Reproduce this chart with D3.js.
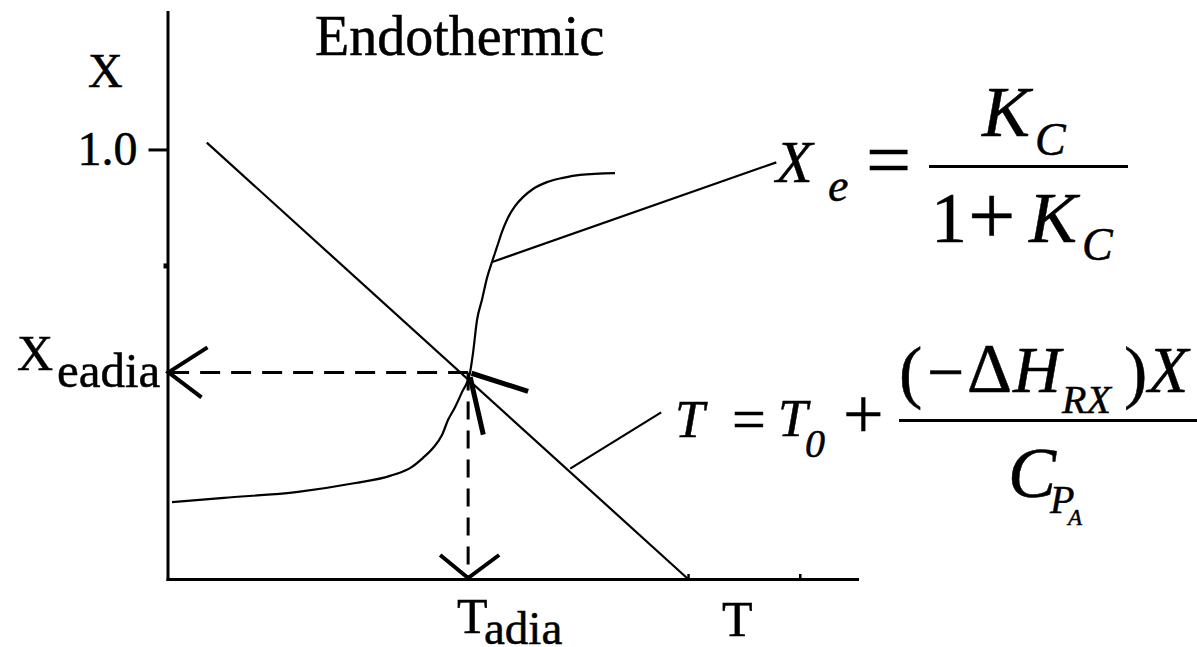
<!DOCTYPE html>
<html>
<head>
<meta charset="utf-8">
<script src="https://cdn.jsdelivr.net/npm/d3@7/dist/d3.min.js"></script>
<style>
  html, body { margin: 0; padding: 0; background: #fff; }
  svg { display: block; }
  text { font-family: "Liberation Serif", "Times New Roman", serif; fill: #000; stroke: #000; stroke-width: 0.5px; }
  .it { font-style: italic; }
</style>
</head>
<body>
<svg id="chart" width="1197" height="647"></svg>
<script>
// Conversion X versus temperature T for an endothermic reaction (arbitrary T units).
const tDomain = [0, 100];
const xDomain = [0, 1.32];

// Equilibrium conversion curve X_e(T)
const eqT = [0.65, 8.19, 18.93, 27.05, 32.27, 35.46, 37.06, 38.51, 39.81, 40.68, 41.70, 42.71, 43.87, 44.31,
             44.89, 45.61, 46.34, 47.06, 47.79, 48.51, 49.38, 50.40, 51.56, 53.01, 55.04, 57.36, 59.83, 64.90];
const eqX = [0.179, 0.189, 0.203, 0.223, 0.240, 0.261, 0.282, 0.305, 0.335, 0.370, 0.400, 0.435, 0.480, 0.526,
             0.603, 0.650, 0.701, 0.738, 0.773, 0.808, 0.841, 0.868, 0.889, 0.908, 0.924, 0.934, 0.941, 0.945];

// Adiabatic energy balance line T = T0 + (-ΔH_RX) X / C_PA
const ebT = [5.7, 75.5];
const ebX = [1.016, 0.0];

// Adiabatic equilibrium point
const adiaT = 43.6;
const adiaX = 0.481;

// Short heavy strokes drawn at the adiabatic point
const strokeA = { t: [44.1, 52.3], x: [0.479, 0.437] };
const strokeB = { t: [43.9, 45.8], x: [0.470, 0.336] };

// Leader lines from the curves to their equations
const leaderEq = { t: [47.1, 88.3], x: [0.738, 0.970] };
const leaderEb = { t: [58.4, 71.6], x: [0.257, 0.388] };

// Axis ticks
const yMajorTicks = [1.0];
const yMajorLabels = ["1.0"];
const yMinorTicks = [0.73];
const tTicks = [75.5, 91.7];

const svg = d3.select("#chart");
const xs = d3.scaleLinear().domain(tDomain).range([167.5, 857]);
const ys = d3.scaleLinear().domain(xDomain).range([579, 12]);

// Axes
const gx = svg.append("g").attr("transform", `translate(0,${ys(0)})`)
  .call(d3.axisBottom(xs).tickValues(tTicks).tickSizeInner(-5).tickSizeOuter(0).tickFormat(""));
gx.select(".domain").attr("stroke", "#000").attr("stroke-width", 3).attr("stroke-linecap", "square");
gx.selectAll(".tick line").attr("stroke", "#000").attr("stroke-width", 2.5);

const gy = svg.append("g").attr("transform", `translate(${xs(0)},0)`)
  .call(d3.axisLeft(ys).tickValues(yMajorTicks).tickSizeInner(19).tickSizeOuter(0)
    .tickPadding(11).tickFormat((d, i) => yMajorLabels[i]));
gy.select(".domain").attr("stroke", "#000").attr("stroke-width", 3).attr("stroke-linecap", "square");
gy.selectAll(".tick line").attr("stroke", "#000").attr("stroke-width", 3);
gy.selectAll(".tick text").attr("fill", "#000")
  .style("font-family", "'Liberation Serif', 'Times New Roman', serif").style("font-size", "48px");

const gyMinor = svg.append("g").attr("transform", `translate(${xs(0)},0)`)
  .call(d3.axisLeft(ys).tickValues(yMinorTicks).tickSizeInner(4).tickSizeOuter(0).tickFormat(""));
gyMinor.select(".domain").remove();
gyMinor.selectAll(".tick line").attr("stroke", "#000").attr("stroke-width", 5);

// Curves
const eqPts = eqT.map((t, i) => [t, eqX[i]]);
const smooth = d3.line().x(d => xs(d[0])).y(d => ys(d[1])).curve(d3.curveMonotoneX);
svg.append("path").datum(eqPts)
  .attr("d", smooth)
  .attr("fill", "none").attr("stroke", "#000").attr("stroke-width", 2.2);

const straight = d3.line().x(d => xs(d[0])).y(d => ys(d[1]));
const seg = (o) => o.t.map((t, i) => [t, o.x[i]]);
svg.append("path").datum(ebT.map((t, i) => [t, ebX[i]]))
  .attr("d", straight).attr("fill", "none").attr("stroke", "#000").attr("stroke-width", 2.2);

[leaderEq, leaderEb].forEach(o => {
  svg.append("path").datum(seg(o)).attr("d", straight)
    .attr("fill", "none").attr("stroke", "#000").attr("stroke-width", 2.2);
});
[strokeA, strokeB].forEach(o => {
  svg.append("path").datum(seg(o)).attr("d", straight)
    .attr("fill", "none").attr("stroke", "#000").attr("stroke-width", 5);
});

// Dashed guides from the adiabatic point to both axes
const px = xs(adiaT), py = ys(adiaX);
svg.append("line").attr("x1", px).attr("y1", py).attr("x2", xs(0)).attr("y2", py)
  .attr("stroke", "#000").attr("stroke-width", 3).attr("stroke-dasharray", "20,11");
svg.append("line").attr("x1", px).attr("y1", py).attr("x2", px).attr("y2", ys(0))
  .attr("stroke", "#000").attr("stroke-width", 3).attr("stroke-dasharray", "18,11");

// Open arrowheads on the axes
const arrow = (x, y, arms) => {
  svg.append("path")
    .attr("d", `M${x + arms[0][0]},${y + arms[0][1]}L${x},${y}L${x + arms[1][0]},${y + arms[1][1]}`)
    .attr("fill", "none").attr("stroke", "#000").attr("stroke-width", 4).attr("stroke-linejoin", "miter");
};
arrow(xs(0) + 1, py, [[39, -25], [33, 25]]);
arrow(px, ys(0) - 1, [[-28, -23], [31, -23]]);

// Labels
const txt = (x, y, s, size, italic) => svg.append("text")
  .attr("x", x).attr("y", y).attr("class", italic ? "it" : null)
  .style("font-size", size + "px").text(s);

txt(315, 55, "Endothermic", 56);
txt(88, 87, "X", 48);
txt(722, 636, "T", 50);

txt(17, 370, "X", 50);
txt(57, 387, "eadia", 49);
txt(457, 633, "T", 50);
txt(484, 644, "adia", 47);

// X_e = K_C / (1 + K_C)
txt(776, 182, "X", 60, true);
txt(828, 201, "e", 46, true);
txt(866, 187, "=", 80);
svg.append("line").attr("x1", 929).attr("x2", 1128).attr("y1", 166.5).attr("y2", 166.5)
  .attr("stroke", "#000").attr("stroke-width", 3);
txt(982, 136, "K", 72, true);
txt(1035, 155, "C", 46, true);
txt(931, 242, "1", 72);
txt(968, 244, "+", 84);
txt(1029, 242, "K", 72, true);
txt(1082, 260, "C", 46, true);

// T = T0 + (-ΔH_RX) X / C_PA
txt(675, 437, "T", 53, true);
txt(732, 439, "=", 60);
txt(778, 436, "T", 53, true);
txt(805, 457, "0", 40, true);
txt(843, 438, "+", 72);
svg.append("line").attr("x1", 899).attr("x2", 1197).attr("y1", 420.5).attr("y2", 420.5)
  .attr("stroke", "#000").attr("stroke-width", 3);
txt(899, 395, "(", 70);
txt(927, 394, "\u2212", 66);
txt(967, 392, "\u0394", 70);
txt(1013, 392, "H", 66, true);
txt(1062, 413, "RX", 40, true);
txt(1124, 395, ")", 70);
txt(1148, 392, "X", 66, true);
txt(1008, 497, "C", 72, true);
txt(1050, 513, "P", 40, true);
txt(1068, 525, "A", 23, true);
</script>
</body>
</html>
